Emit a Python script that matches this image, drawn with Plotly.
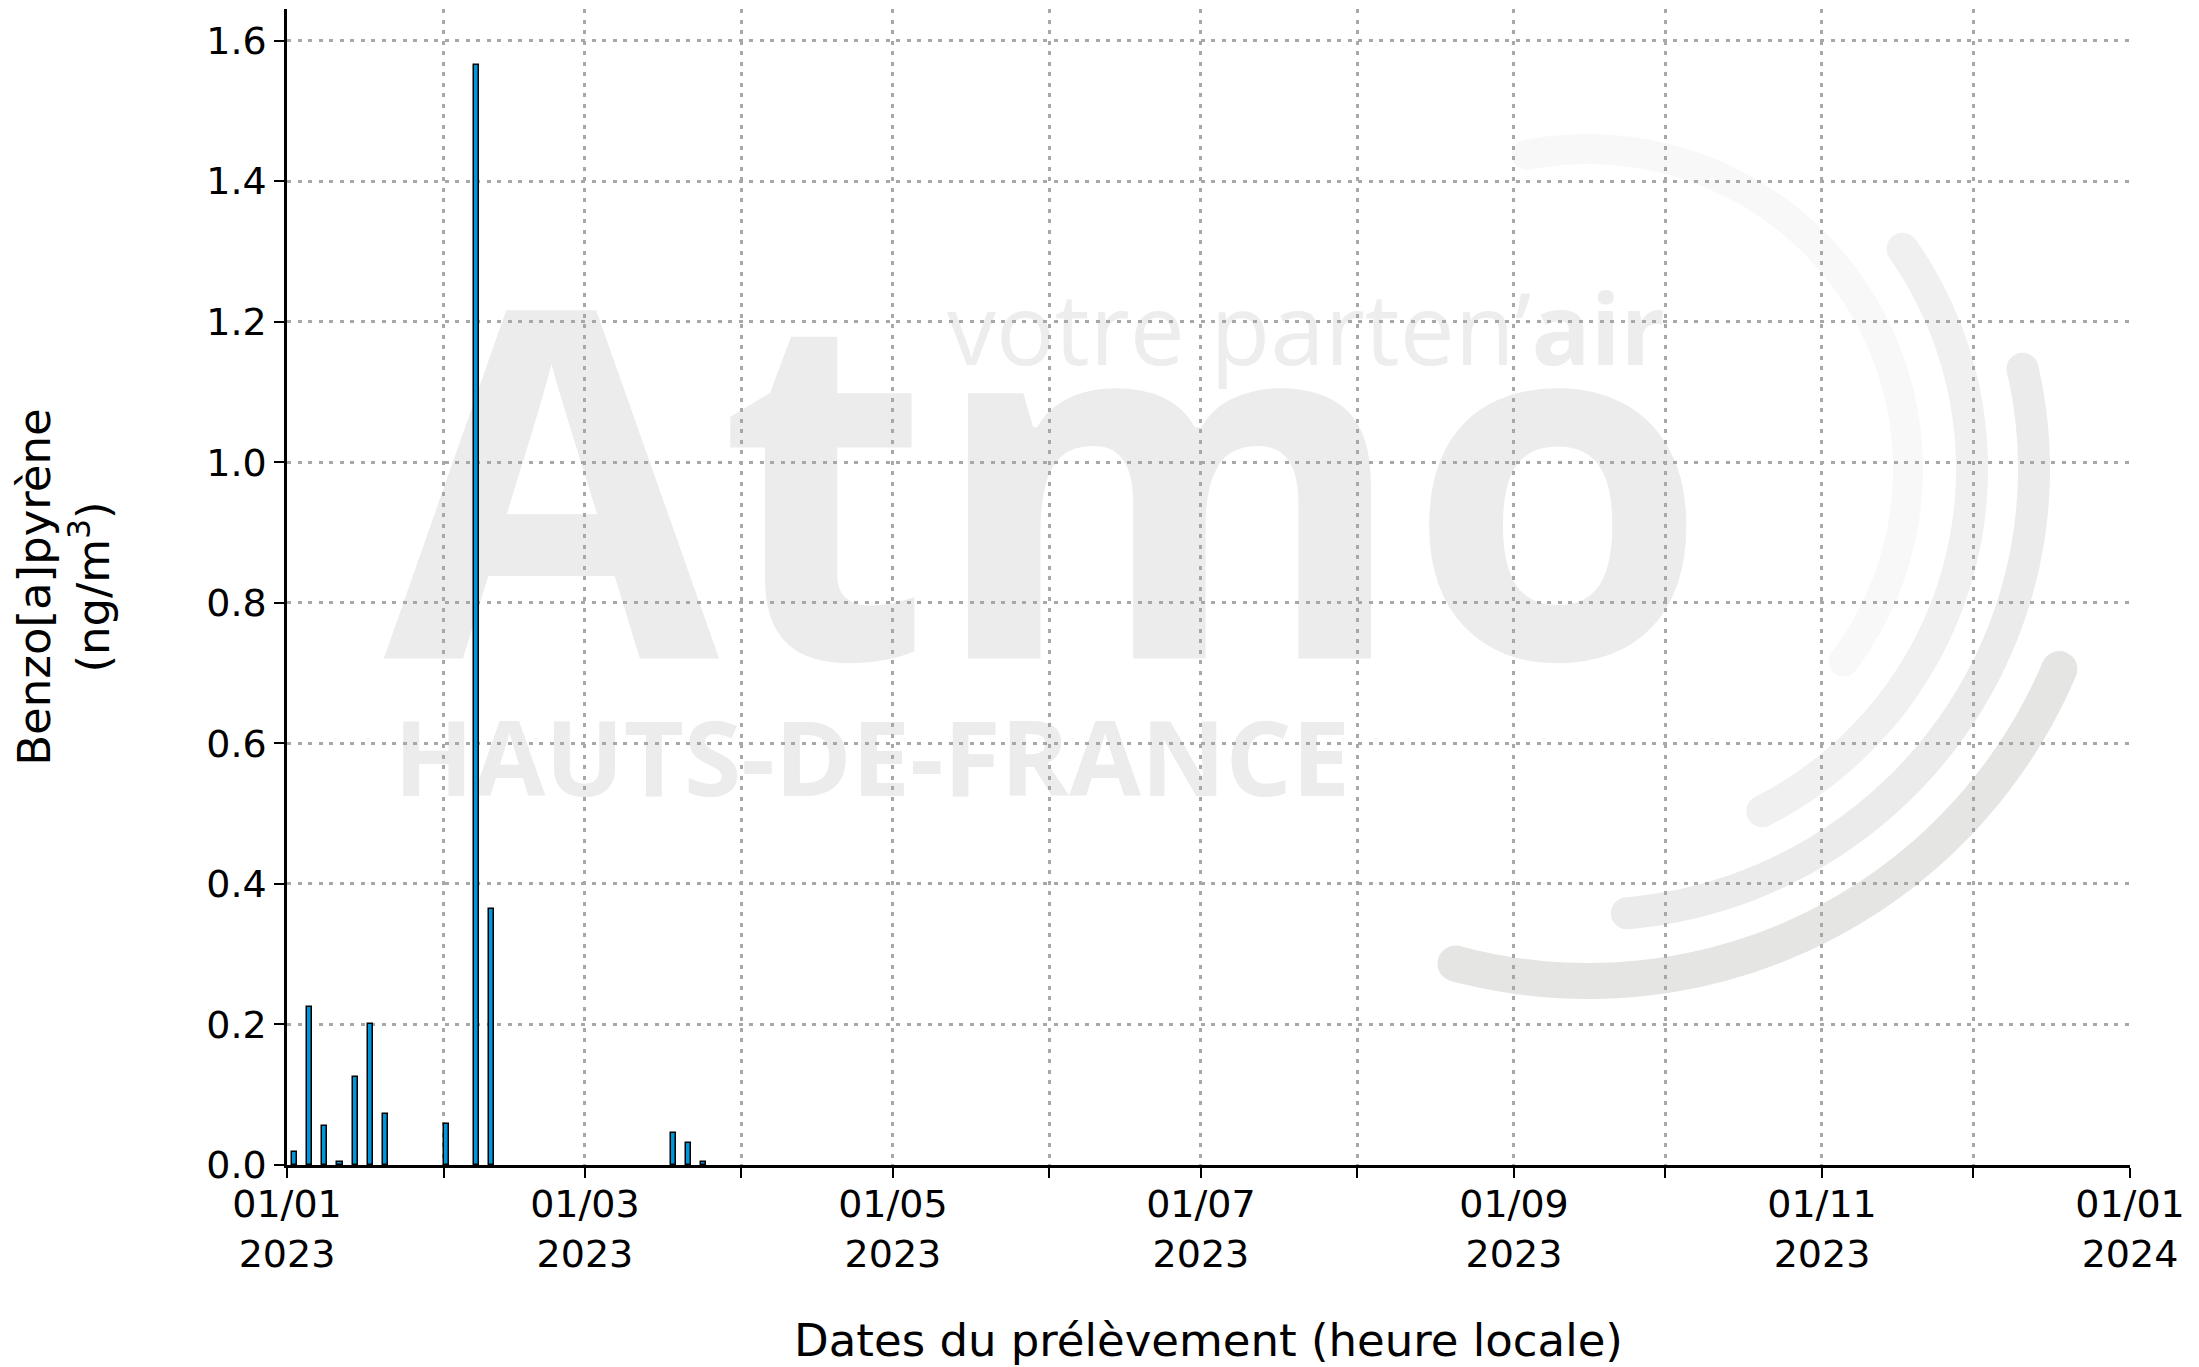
import numpy as np
import plotly.graph_objects as go

# ---------------- data ----------------
sample_dates = ['2023-01-02', '2023-01-05', '2023-01-08', '2023-01-11', '2023-01-14',
                '2023-01-17', '2023-01-20', '2023-02-01', '2023-02-07', '2023-02-10',
                '2023-03-18', '2023-03-21', '2023-03-24']
bap_values = [0.019, 0.225, 0.055, 0.004, 0.125, 0.200, 0.073, 0.058, 1.565, 0.365,
              0.046, 0.032, 0.004]
major_ticks = ['2023-01-01', '2023-03-01', '2023-05-01', '2023-07-01', '2023-09-01',
               '2023-11-01', '2024-01-01']
major_labels = ['01/01<br>2023', '01/03<br>2023', '01/05<br>2023', '01/07<br>2023',
                '01/09<br>2023', '01/11<br>2023', '01/01<br>2024']
y_ticks = [0.0, 0.2, 0.4, 0.6, 0.8, 1.0, 1.2, 1.4, 1.6]

# ---------------- layout geometry (page pixels; page body has an 8px margin) ----------------
OFF = 8
W, H = 2199 - OFF, 1367 - OFF
PX0, PX1, PY0, PY1 = 287, 2130, 9, 1165          # plot area in page pixels
L, R, T, B = PX0 - OFF, (OFF + W) - PX1, PY0 - OFF, (OFF + H) - PY1
PW, PH = PX1 - PX0, PY1 - PY0

def px2paper(X, Y):
    return (X - PX0) / PW, (PY1 - Y) / PH

FONT = 'DejaVu Sans'
DAY_MS = 86400000

bar_x = [d + ' 12:00' for d in sample_dates]

fig = go.Figure()
fig.add_trace(go.Bar(
    x=bar_x, y=bap_values, width=[DAY_MS] * len(bar_x),
    marker=dict(color='#0096db', line=dict(color='#000000', width=1.5)),
    showlegend=False, hoverinfo='x+y'))

# ---------------- watermark (decorative logo) ----------------
shapes = []
cx, cy = 1588, 469
arcs = [  # radius, start angle, end angle (deg, screen coords), width, colour
    (320, -101, 37, 30, '#f8f8f8'),
    (384, -35, 63, 32, '#f0f0f0'),
    (446, -13, 85, 32, '#ebebeb'),
    (512, 23, 105, 36, '#e5e5e3'),
]
for r, a0, a1, w, col in arcs:
    ang = np.radians(np.linspace(a0, a1, 80))
    pts = [px2paper(cx + r * np.cos(a), cy + r * np.sin(a)) for a in ang]
    path = 'M ' + ' L '.join(f'{p[0]:.5f},{p[1]:.5f}' for p in pts)
    shapes.append(dict(type='path', path=path, xref='paper', yref='paper',
                       line=dict(color=col, width=w), layer='below'))
    for a in (ang[0], ang[-1]):
        X, Y = cx + r * np.cos(a), cy + r * np.sin(a)
        x0, y0 = px2paper(X - w / 2, Y + w / 2)
        x1, y1 = px2paper(X + w / 2, Y - w / 2)
        shapes.append(dict(type='circle', xref='paper', yref='paper',
                           x0=x0, y0=y0, x1=x1, y1=y1, fillcolor=col,
                           line=dict(width=0), layer='below'))

def text_shape(text, xc, yc, size, color, bw=1400, bh=600):
    x0, y0 = px2paper(xc - bw / 2, yc + bh / 2)
    x1, y1 = px2paper(xc + bw / 2, yc - bh / 2)
    return dict(type='rect', xref='paper', yref='paper', x0=x0, y0=y0, x1=x1, y1=y1,
                line=dict(width=0), fillcolor='rgba(0,0,0,0)', layer='below',
                label=dict(text=text, textposition='middle center',
                           font=dict(family='Open Sans', size=size, color=color)))

shapes.append(text_shape('<b>Atmo</b>', 1046, 503, 486, '#ececec'))
shapes.append(text_shape('votre parten’<b>air</b>', 1306, 334, 98, '#ededed', bh=150))
shapes.append(text_shape('<b>HAUTS-DE-FRANCE</b>', 872, 762, 104, '#ececec', bh=160))

# ---------------- axes ----------------
grid = dict(showgrid=True, gridcolor='#a8a8a8', gridwidth=3, griddash='4px,6.5px')
fig.update_xaxes(
    type='date', range=['2023-01-01', '2024-01-01'],
    tickmode='array', tickvals=major_ticks, ticktext=major_labels,
    ticks='outside', ticklen=10, tickwidth=2, tickcolor='#000000',
    ticklabelstandoff=-6,
    minor=dict(dtick='M1', tick0='2023-01-01', ticks='outside', ticklen=10,
               tickwidth=2, tickcolor='#000000', showgrid=True,
               gridcolor='#a8a8a8', gridwidth=3, griddash='4px,6.5px'),
    showline=True, linecolor='#000000', linewidth=2.5, zeroline=False,
    tickfont=dict(family=FONT, size=38, color='#000000'),
    title=dict(text='Dates du prélèvement (heure locale)', standoff=50,
               font=dict(family=FONT, size=45, color='#000000')),
    automargin=False, **grid)
fig.update_yaxes(
    range=[0, 1.645], tickmode='array', tickvals=y_ticks,
    ticktext=[f'{v:.1f}' for v in y_ticks],
    ticks='outside', ticklen=10, tickwidth=2, tickcolor='#000000',
    showline=True, linecolor='#000000', linewidth=2.5, zeroline=False,
    tickfont=dict(family=FONT, size=38, color='#000000'),
    title=dict(text='Benzo[a]pyrène<br>(ng/m<sup>3</sup>)', standoff=88,
               font=dict(family=FONT, size=45, color='#000000')),
    automargin=False, **grid)

fig.update_layout(
    width=W, height=H, margin=dict(l=L, r=R, t=T, b=B, pad=0),
    paper_bgcolor='#ffffff', plot_bgcolor='#ffffff',
    shapes=shapes, bargap=0,
    font=dict(family=FONT, color='#000000'))

fig.write_html('out.html')
